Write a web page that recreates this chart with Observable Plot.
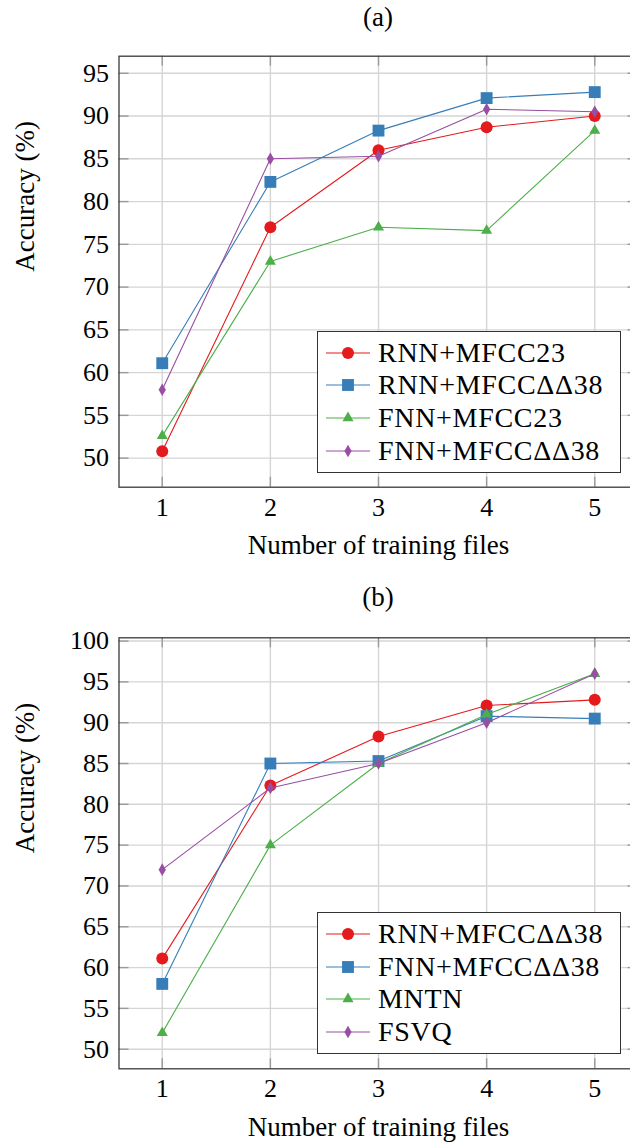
<!DOCTYPE html>
<html><head><meta charset="utf-8">
<script src="https://cdn.jsdelivr.net/npm/d3@7"></script>
<script src="https://cdn.jsdelivr.net/npm/@observablehq/plot@0.6"></script>
<style>
body{margin:0;background:#fff;font-family:"Liberation Serif","Tinos","Times New Roman","DejaVu Serif",serif;color:#000;}
#page{position:relative;width:630px;height:1145px;overflow:hidden;}
.title{width:630px;box-sizing:border-box;padding-left:126px;text-align:center;font-size:27px;}
.chartwrap{width:630px;overflow:hidden;}
.chartwrap svg, .chartwrap svg text{font-family:"Liberation Serif","Tinos","Times New Roman","DejaVu Serif",serif !important;}
.legend{position:absolute;left:317px;width:304px;height:141.5px;background:#fff;border:1.3px solid #333;box-sizing:border-box;}
.row{position:absolute;left:0;height:32px;width:300px;font-size:28px;letter-spacing:0.7px;white-space:nowrap;}
.row svg{position:absolute;left:8px;top:0;}
.row span{position:absolute;left:60px;top:0;line-height:32px;}
</style></head>
<body>
<div id="page">
  <div class="title" style="height:34px;line-height:34px;">(a)</div>
  <div class="chartwrap" id="chartA"></div>
  <div class="title" style="height:44px;line-height:44px;">(b)</div>
  <div class="chartwrap" id="chartB"></div>
</div>
<script>
// ---- data ----
const xValues = [1, 2, 3, 4, 5];
const yTicksA = [50, 55, 60, 65, 70, 75, 80, 85, 90, 95];
const yTicksB = [50, 55, 60, 65, 70, 75, 80, 85, 90, 95, 100];
const xLabel = "Number of training files";
const yLabel = "Accuracy (%)";

const seriesA = ["RNN+MFCC23", "RNN+MFCCΔΔ38", "FNN+MFCC23", "FNN+MFCCΔΔ38"];
const a_rnnMfcc23 = [50.8, 77.0, 86.0, 88.7, 90.0];
const a_rnnDD38   = [61.1, 82.3, 88.3, 92.1, 92.8];
const a_fnnMfcc23 = [52.6, 73.0, 77.0, 76.6, 88.3];
const a_fnnDD38   = [58.0, 85.0, 85.3, 90.8, 90.5];

const seriesB = ["RNN+MFCCΔΔ38", "FNN+MFCCΔΔ38", "MNTN", "FSVQ"];
const b_rnnDD38 = [61.1, 82.3, 88.3, 92.1, 92.8];
const b_fnnDD38 = [58.0, 85.0, 85.3, 90.8, 90.5];
const b_mntn    = [52.0, 75.0, 85.0, 91.0, 96.0];
const b_fsvq    = [72.0, 82.0, 85.0, 90.0, 96.0];

// ---- styles ----
const fontStack = "'Liberation Serif', Tinos, 'Times New Roman', 'DejaVu Serif', serif";
const colors = ["#e41a1c", "#377eb8", "#4daf4a", "#984ea3"];
const symbols = ["circle", "square", "triangle", "diamond"];
const d3symbols = [d3.symbolCircle, d3.symbolSquare, d3.symbolTriangle, d3.symbolDiamond];
const radii = [6, 6.7, 4.1, 3.8];
const gridColor = "#d5d5d5";
const tickColor = "#9a9a9a";

function enlarge(vals, f) {
  const lo = d3.min(vals), hi = d3.max(vals), p = (hi - lo) * f;
  return [lo - p, hi + p];
}

function chart({names, values, yTicks, height, top, bottom, labelDy}) {
  const rows = names.flatMap((n, i) => xValues.map((x, j) => ({series: n, x, y: values[i][j]})));
  const marginLeft = 118.5, marginRight = -7.5;
  const frameW = 630 - marginLeft - marginRight;
  const frameH = height - top - bottom;
  const marks = [
    Plot.gridX(xValues, {stroke: gridColor, strokeOpacity: 1, strokeWidth: 1.4}),
    Plot.gridY(yTicks, {stroke: gridColor, strokeOpacity: 1, strokeWidth: 1.4}),
    Plot.ruleY(yTicks, {stroke: tickColor, strokeWidth: 1.4, insetRight: frameW - 10}),
    Plot.ruleY(yTicks, {stroke: tickColor, strokeWidth: 1.4, insetLeft: frameW - 10}),
    Plot.ruleX(xValues, {stroke: tickColor, strokeWidth: 1.4, insetBottom: frameH - 10}),
    Plot.ruleX(xValues, {stroke: tickColor, strokeWidth: 1.4, insetTop: frameH - 10}),
    Plot.frame({stroke: "#3a3a3a", strokeWidth: 1.3}),
    Plot.axisY(yTicks, {tickSize: 0, tickPadding: 10, fontSize: 26, label: null}),
    Plot.axisX(xValues, {tickSize: 0, tickPadding: 10, fontSize: 26, label: null}),
    Plot.text([yLabel], {text: d => d, frameAnchor: "left", rotate: -90, dx: -93.5, lineAnchor: "middle", fontSize: 27}),
    Plot.text([xLabel], {text: d => d, frameAnchor: "bottom", dy: labelDy, lineAnchor: "middle", fontSize: 27, letterSpacing: "0.6px"})
  ];
  names.forEach((n, i) => {
    const d = rows.filter(r => r.series === n);
    marks.push(Plot.line(d, {x: "x", y: "y", stroke: colors[i], strokeWidth: 1.1}));
    marks.push(Plot.dot(d, {x: "x", y: "y", fill: colors[i], symbol: symbols[i], r: radii[i]}));
  });
  return Plot.plot({
    width: 630, height,
    marginLeft, marginRight, marginTop: top, marginBottom: bottom,
    x: {domain: enlarge(xValues, 0.1), label: null},
    y: {domain: enlarge(values.flat(), 0.1), label: null},
    style: {fontFamily: fontStack, fontSize: "26px", color: "#000", background: "#fff", overflow: "hidden"},
    marks
  });
}

document.getElementById("chartA").append(chart({
  names: seriesA,
  values: [a_rnnMfcc23, a_rnnDD38, a_fnnMfcc23, a_fnnDD38],
  yTicks: yTicksA, height: 541, top: 21.7, bottom: 88.3, labelDy: 58.5
}));
document.getElementById("chartB").append(chart({
  names: seriesB,
  values: [b_rnnDD38, b_fnnDD38, b_mntn, b_fsvq],
  yTicks: yTicksB, height: 526, top: 18.3, bottom: 76.7, labelDy: 58.7
}));

function legend(names, topPx) {
  const page = document.getElementById("page");
  const box = document.createElement("div");
  box.className = "legend";
  box.style.top = topPx + "px";
  names.forEach((n, i) => {
    const row = document.createElement("div");
    row.className = "row";
    row.style.top = (21.8 + 32.8 * i - 16 - 1.3) + "px";
    const svg = d3.create("svg").attr("width", 44).attr("height", 32);
    svg.append("line").attr("x1", 0).attr("x2", 44).attr("y1", 16).attr("y2", 16)
      .attr("stroke", colors[i]).attr("stroke-width", 1.1);
    if (i === 0) {
      svg.append("circle").attr("cx", 22).attr("cy", 16).attr("r", radii[i]).attr("fill", colors[i]);
    } else {
      svg.append("path").attr("transform", "translate(22,16)")
        .attr("d", d3.symbol(d3symbols[i], radii[i] * radii[i] * Math.PI)())
        .attr("fill", colors[i]);
    }
    row.append(svg.node());
    const span = document.createElement("span");
    span.textContent = n;
    row.append(span);
    box.append(row);
  });
  page.append(box);
}
legend(seriesA, 331);
legend(seriesB, 912.3);
</script>
</body></html>
